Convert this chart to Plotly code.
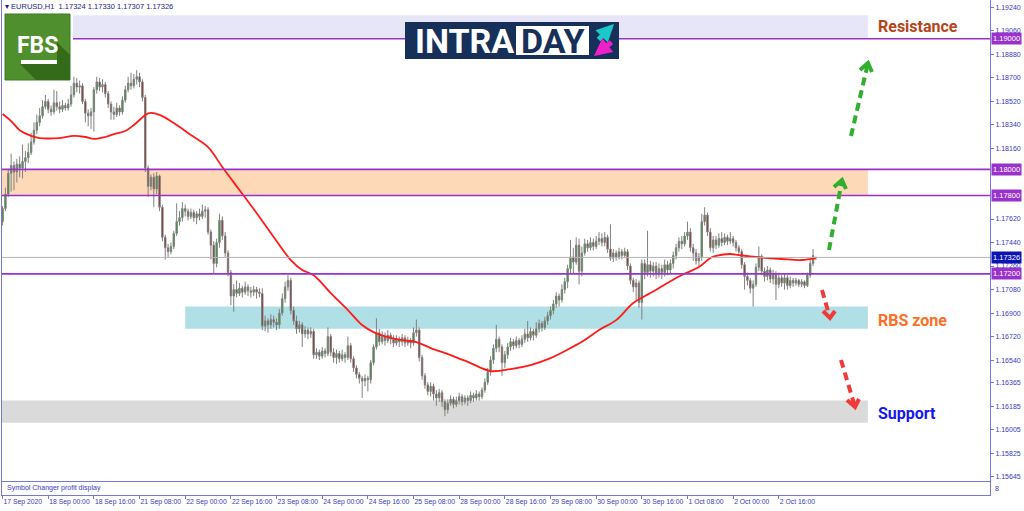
import plotly.graph_objects as go

# ---------------- data ----------------
opens = [1.1760,1.1770,1.1781,1.1797,1.1803,1.1798,1.1804,1.1801,1.1806,1.1809,
1.1813,1.1821,1.1830,1.1836,1.1841,1.1848,1.1852,1.1846,1.1844,1.1851,
1.1848,1.1846,1.1849,1.1847,1.1850,1.1857,1.1866,1.1863,1.1864,1.1852,
1.1843,1.1841,1.1844,1.1861,1.1867,1.1863,1.1865,1.1858,1.1850,1.1844,
1.1842,1.1847,1.1844,1.1853,1.1861,1.1866,1.1864,1.1869,1.1871,1.1867,
1.1855,1.1801,1.1787,1.1794,1.1785,1.1795,1.1771,1.1748,1.1740,1.1737,
1.1741,1.1751,1.1760,1.1763,1.1770,1.1768,1.1764,1.1767,1.1763,1.1766,
1.1764,1.1768,1.1769,1.1752,1.1742,1.1728,1.1744,1.1761,1.1749,1.1736,
1.1721,1.1703,1.1708,1.1705,1.1709,1.1706,1.1710,1.1707,1.1706,1.1708,
1.1706,1.1705,1.1680,1.1684,1.1681,1.1685,1.1683,1.1681,1.1690,1.1701,
1.1710,1.1715,1.1692,1.1684,1.1678,1.1681,1.1674,1.1677,1.1674,1.1676,
1.1658,1.1660,1.1657,1.1661,1.1659,1.1672,1.1660,1.1656,1.1659,1.1655,
1.1658,1.1656,1.1665,1.1655,1.1648,1.1643,1.1640,1.1638,1.1640,1.1639,
1.1652,1.1664,1.1675,1.1668,1.1672,1.1669,1.1673,1.1670,1.1667,1.1670,
1.1668,1.1671,1.1667,1.1669,1.1667,1.1675,1.1677,1.1656,1.1642,1.1635,
1.1630,1.1634,1.1628,1.1625,1.1629,1.1622,1.1616,1.1621,1.1624,1.1620,
1.1623,1.1626,1.1622,1.1625,1.1623,1.1627,1.1625,1.1628,1.1626,1.1631,
1.1637,1.1645,1.1654,1.1663,1.1670,1.1664,1.1652,1.1658,1.1664,1.1668,
1.1665,1.1669,1.1666,1.1670,1.1674,1.1671,1.1676,1.1673,1.1678,1.1682,
1.1679,1.1684,1.1688,1.1692,1.1697,1.1703,1.1700,1.1708,1.1714,1.1724,
1.1733,1.1729,1.1742,1.1722,1.1736,1.1743,1.1740,1.1744,1.1741,1.1745,
1.1747,1.1744,1.1748,1.1739,1.1732,1.1736,1.1733,1.1737,1.1734,1.1737,
1.1726,1.1715,1.1710,1.1713,1.1698,1.1728,1.1721,1.1727,1.1722,1.1726,
1.1720,1.1724,1.1721,1.1727,1.1723,1.1728,1.1734,1.1740,1.1745,1.1743,
1.1749,1.1752,1.1740,1.1736,1.1730,1.1733,1.1760,1.1765,1.1752,1.1740,
1.1746,1.1742,1.1747,1.1744,1.1748,1.1745,1.1747,1.1744,1.1740,1.1737,
1.1727,1.1718,1.1715,1.1709,1.1712,1.1725,1.1733,1.1722,1.1718,1.1723,
1.1716,1.1720,1.1712,1.1717,1.1713,1.1717,1.1711,1.1715,1.1713,1.1715,
1.1712,1.1714,1.1711,1.1719,1.1728,1.17324]

highs = [1.1772,1.1786,1.1800,1.1812,1.1806,1.1808,1.1810,1.1819,1.1814,1.1820,
1.1828,1.1836,1.1842,1.1847,1.1853,1.1857,1.1854,1.1849,1.1861,1.1860,
1.1852,1.1853,1.1851,1.1854,1.1864,1.1871,1.1870,1.1868,1.1866,1.1854,
1.1846,1.1847,1.1863,1.1871,1.1870,1.1869,1.1867,1.1860,1.1852,1.1848,
1.1851,1.1849,1.1856,1.1864,1.1871,1.1874,1.1873,1.1876,1.1874,1.1869,
1.1857,1.1803,1.1796,1.1797,1.1798,1.1796,1.1773,1.1750,1.1743,1.1744,
1.1753,1.1774,1.1768,1.1775,1.1773,1.1770,1.1770,1.1769,1.1768,1.1770,
1.1773,1.1772,1.1771,1.1754,1.1745,1.1747,1.1766,1.1764,1.1752,1.1738,
1.1723,1.1712,1.1715,1.1713,1.1711,1.1714,1.1712,1.1710,1.1711,1.1710,
1.1709,1.1709,1.1688,1.1686,1.1689,1.1688,1.1686,1.1693,1.1705,1.1714,
1.1719,1.1717,1.1695,1.1688,1.1684,1.1683,1.1680,1.1679,1.1679,1.1678,
1.1663,1.1662,1.1664,1.1663,1.1679,1.1674,1.1663,1.1662,1.1661,1.1662,
1.1660,1.1672,1.1667,1.1657,1.1650,1.1645,1.1642,1.1643,1.1642,1.1654,
1.1666,1.1686,1.1678,1.1676,1.1675,1.1677,1.1675,1.1673,1.1673,1.1672,
1.1674,1.1673,1.1672,1.1671,1.1679,1.1685,1.1679,1.1658,1.1644,1.1637,
1.1637,1.1636,1.1631,1.1632,1.1631,1.1624,1.1624,1.1627,1.1626,1.1626,
1.1629,1.1628,1.1627,1.1627,1.1630,1.1629,1.1631,1.1630,1.1633,1.1640,
1.1648,1.1657,1.1666,1.1681,1.1672,1.1666,1.1661,1.1667,1.1671,1.1670,
1.1672,1.1671,1.1673,1.1678,1.1684,1.1679,1.1678,1.1683,1.1685,1.1684,
1.1687,1.1691,1.1695,1.1700,1.1706,1.1705,1.1712,1.1717,1.1727,1.1746,
1.1740,1.1748,1.1747,1.1741,1.1747,1.1746,1.1748,1.1747,1.1749,1.1752,
1.1751,1.1752,1.1750,1.1758,1.1739,1.1738,1.1740,1.1739,1.1740,1.1739,
1.1728,1.1717,1.1716,1.1715,1.1731,1.1731,1.1753,1.1730,1.1729,1.1729,
1.1728,1.1727,1.1731,1.1730,1.1731,1.1737,1.1743,1.1748,1.1749,1.1752,
1.1760,1.1755,1.1743,1.1739,1.1736,1.1766,1.1771,1.1767,1.1755,1.1749,
1.1749,1.1751,1.1752,1.1751,1.1750,1.1752,1.1749,1.1746,1.1742,1.1739,
1.1729,1.1721,1.1717,1.1715,1.1728,1.1741,1.1735,1.1725,1.1726,1.1725,
1.1723,1.1722,1.1721,1.1719,1.1720,1.1719,1.1718,1.1717,1.1717,1.1716,
1.1716,1.1715,1.1721,1.1731,1.1739,1.17330]

lows = [1.1757,1.1768,1.1779,1.1783,1.1784,1.1790,1.1794,1.1793,1.1798,1.1805,
1.1811,1.1819,1.1827,1.1833,1.1839,1.1846,1.1843,1.1841,1.1842,1.1845,
1.1843,1.1844,1.1845,1.1845,1.1848,1.1855,1.1859,1.1858,1.1850,1.1836,
1.1833,1.1831,1.1829,1.1858,1.1860,1.1859,1.1855,1.1847,1.1838,1.1838,
1.1840,1.1841,1.1842,1.1851,1.1859,1.1861,1.1862,1.1865,1.1863,1.1852,
1.1798,1.1779,1.1784,1.1771,1.1781,1.1768,1.1745,1.1731,1.1733,1.1735,
1.1739,1.1749,1.1757,1.1760,1.1764,1.1761,1.1762,1.1760,1.1758,1.1761,
1.1762,1.1763,1.1750,1.1731,1.1720,1.1725,1.1740,1.1746,1.1733,1.1718,
1.1696,1.1691,1.1702,1.1703,1.1702,1.1704,1.1703,1.1702,1.1703,1.1701,
1.1702,1.1677,1.1676,1.1675,1.1678,1.1679,1.1677,1.1678,1.1688,1.1698,
1.1707,1.1689,1.1681,1.1674,1.1675,1.1664,1.1671,1.1670,1.1671,1.1655,
1.1655,1.1654,1.1655,1.1656,1.1657,1.1657,1.1652,1.1651,1.1652,1.1653,
1.1652,1.1654,1.1652,1.1645,1.1640,1.1636,1.1625,1.1634,1.1630,1.1636,
1.1650,1.1662,1.1665,1.1666,1.1665,1.1667,1.1666,1.1664,1.1665,1.1664,
1.1665,1.1664,1.1665,1.1663,1.1665,1.1672,1.1653,1.1639,1.1632,1.1627,
1.1626,1.1623,1.1619,1.1622,1.1618,1.1611,1.1613,1.1619,1.1617,1.1618,
1.1620,1.1619,1.1620,1.1619,1.1621,1.1622,1.1623,1.1623,1.1624,1.1629,
1.1635,1.1642,1.1651,1.1660,1.1660,1.1642,1.1648,1.1655,1.1661,1.1662,
1.1663,1.1663,1.1664,1.1667,1.1668,1.1669,1.1669,1.1671,1.1675,1.1676,
1.1677,1.1681,1.1685,1.1689,1.1694,1.1695,1.1698,1.1705,1.1709,1.1720,
1.1720,1.1727,1.1712,1.1718,1.1734,1.1737,1.1738,1.1738,1.1739,1.1742,
1.1741,1.1741,1.1736,1.1730,1.1729,1.1730,1.1731,1.1731,1.1732,1.1723,
1.1712,1.1706,1.1700,1.1694,1.1685,1.1716,1.1718,1.1717,1.1718,1.1716,
1.1717,1.1716,1.1718,1.1719,1.1720,1.1724,1.1731,1.1737,1.1739,1.1741,
1.1746,1.1737,1.1730,1.1727,1.1726,1.1730,1.1757,1.1749,1.1737,1.1736,
1.1739,1.1740,1.1741,1.1742,1.1742,1.1743,1.1741,1.1737,1.1734,1.1724,
1.1708,1.1711,1.1705,1.1695,1.1710,1.1722,1.1719,1.1714,1.1715,1.1713,
1.1712,1.1700,1.1709,1.1710,1.1708,1.1708,1.1709,1.1710,1.1711,1.1710,
1.1710,1.1709,1.1710,1.1717,1.1726,1.17307]

closes = [1.1770,1.1781,1.1797,1.1803,1.1798,1.1804,1.1801,1.1806,1.1809,1.1813,
1.1821,1.1830,1.1836,1.1841,1.1848,1.1852,1.1846,1.1844,1.1851,1.1848,
1.1846,1.1849,1.1847,1.1850,1.1857,1.1866,1.1863,1.1864,1.1852,1.1843,
1.1841,1.1844,1.1861,1.1867,1.1863,1.1865,1.1858,1.1850,1.1844,1.1842,
1.1847,1.1844,1.1853,1.1861,1.1866,1.1864,1.1869,1.1871,1.1867,1.1855,
1.1801,1.1787,1.1794,1.1785,1.1795,1.1771,1.1748,1.1740,1.1737,1.1741,
1.1751,1.1760,1.1763,1.1770,1.1768,1.1764,1.1767,1.1763,1.1766,1.1764,
1.1768,1.1769,1.1752,1.1742,1.1728,1.1744,1.1761,1.1749,1.1736,1.1721,
1.1703,1.1708,1.1705,1.1709,1.1706,1.1710,1.1707,1.1706,1.1708,1.1706,
1.1705,1.1680,1.1684,1.1681,1.1685,1.1683,1.1681,1.1690,1.1701,1.1710,
1.1715,1.1692,1.1684,1.1678,1.1681,1.1674,1.1677,1.1674,1.1676,1.1658,
1.1660,1.1657,1.1661,1.1659,1.1672,1.1660,1.1656,1.1659,1.1655,1.1658,
1.1656,1.1665,1.1655,1.1648,1.1643,1.1640,1.1638,1.1640,1.1639,1.1652,
1.1664,1.1675,1.1668,1.1672,1.1669,1.1673,1.1670,1.1667,1.1670,1.1668,
1.1671,1.1667,1.1669,1.1667,1.1675,1.1677,1.1656,1.1642,1.1635,1.1630,
1.1634,1.1628,1.1625,1.1629,1.1622,1.1616,1.1621,1.1624,1.1620,1.1623,
1.1626,1.1622,1.1625,1.1623,1.1627,1.1625,1.1628,1.1626,1.1631,1.1637,
1.1645,1.1654,1.1663,1.1670,1.1664,1.1652,1.1658,1.1664,1.1668,1.1665,
1.1669,1.1666,1.1670,1.1674,1.1671,1.1676,1.1673,1.1678,1.1682,1.1679,
1.1684,1.1688,1.1692,1.1697,1.1703,1.1700,1.1708,1.1714,1.1724,1.1733,
1.1729,1.1742,1.1722,1.1736,1.1743,1.1740,1.1744,1.1741,1.1745,1.1747,
1.1744,1.1748,1.1739,1.1732,1.1736,1.1733,1.1737,1.1734,1.1737,1.1726,
1.1715,1.1710,1.1713,1.1698,1.1728,1.1721,1.1727,1.1722,1.1726,1.1720,
1.1724,1.1721,1.1727,1.1723,1.1728,1.1734,1.1740,1.1745,1.1743,1.1749,
1.1752,1.1740,1.1736,1.1730,1.1733,1.1760,1.1765,1.1752,1.1740,1.1746,
1.1742,1.1747,1.1744,1.1748,1.1745,1.1747,1.1744,1.1740,1.1737,1.1727,
1.1718,1.1715,1.1709,1.1712,1.1725,1.1733,1.1722,1.1718,1.1723,1.1716,
1.1720,1.1712,1.1717,1.1713,1.1717,1.1711,1.1715,1.1713,1.1715,1.1712,
1.1714,1.1711,1.1719,1.1728,1.1734,1.17326]

bar_pos = list(range(len(closes)))

# moving average (red line), read at selected bars
ma_pos = [0,3,6,10,13,20,25,29,32,36,39,43,46,48,50,52,55,60,66,72,77,83,89,95,101,105,109,115,
          121,126,130,135,140,145,150,157,164,171,178,185,192,199,204,209,215,221,227,233,238,244,
          248,250,255,258,264,273,280,285]
ma_val = [1.18424,1.18370,1.18300,1.18256,1.18240,1.18240,1.18256,1.18248,1.18233,1.18248,1.18270,
          1.18294,1.18340,1.18378,1.18417,1.18432,1.18417,1.18355,1.18263,1.18170,1.18018,1.17842,
          1.17666,1.17482,1.17306,1.17230,1.17190,1.17053,1.16923,1.16808,1.16754,1.16716,1.16693,
          1.16678,1.16632,1.16578,1.16517,1.16456,1.16471,1.16502,1.16555,1.16632,1.16693,1.16770,
          1.16846,1.16977,1.17053,1.17130,1.17191,1.17252,1.17321,1.17337,1.17352,1.17344,1.17329,
          1.17314,1.17306,1.17321]

time_pos = [0,16,32,48,64,80,96,112,128,144,160,176,192,208,224,240,256,272]
time_labels = ["17 Sep 2020","18 Sep 00:00","18 Sep 16:00","21 Sep 08:00","22 Sep 00:00",
               "22 Sep 16:00","23 Sep 08:00","24 Sep 00:00","24 Sep 16:00","25 Sep 08:00",
               "28 Sep 00:00","28 Sep 16:00","29 Sep 08:00","30 Sep 00:00","30 Sep 16:00",
               "1 Oct 08:00","2 Oct 00:00","2 Oct 16:00"]

price_ticks = [1.19240,1.19060,1.18880,1.18700,1.18520,1.18340,1.18160,1.17620,1.17440,1.17260,
               1.17080,1.16900,1.16720,1.16540,1.16365,1.16185,1.16005,1.15825,1.15645]

level_lines = [1.19000, 1.18000, 1.17800, 1.17200]
last_price = 1.17326
resistance_zone = (1.19000, 1.19180)
orange_zone = (1.17800, 1.18000)
rbs_zone = (1.16780, 1.16950)
support_zone = (1.16060, 1.16230)

# ---------------- styling ----------------
AX = "#7676dc"
TXT = "#3838c0"
PURPLE = "#9932cc"
FONT = "Liberation Sans"

def px(p):  # pixel x -> paper
    return (p - 2) / 988

def py(p):  # pixel y -> paper
    return (495 - p) / 495

fig = go.Figure()

fig.add_trace(go.Candlestick(
    x=bar_pos, open=opens, high=highs, low=lows, close=closes,
    increasing=dict(line=dict(color="#808080", width=1), fillcolor="#12a412"),
    decreasing=dict(line=dict(color="#808080", width=1), fillcolor="#8a0c0c"),
    whiskerwidth=0, showlegend=False, hoverinfo="skip", xaxis="x", yaxis="y"))

fig.add_trace(go.Scatter(
    x=ma_pos, y=ma_val, mode="lines",
    line=dict(color="#ff1a1a", width=1.8, shape="spline", smoothing=1.0),
    showlegend=False, hoverinfo="skip", xaxis="x", yaxis="y"))

fig.add_trace(go.Scatter(x=[None], y=[None], xaxis="x2", yaxis="y2",
                         showlegend=False, hoverinfo="skip"))

shapes = []
x_left, x_zone_end = -0.2, 303.2
# zones
shapes.append(dict(type="rect", xref="x", yref="y", x0=24.7, x1=x_zone_end,
                   y0=resistance_zone[0], y1=resistance_zone[1],
                   fillcolor="#e6e6f8", line=dict(width=0), layer="below"))
shapes.append(dict(type="rect", xref="x", yref="y", x0=x_left, x1=x_zone_end,
                   y0=orange_zone[0], y1=orange_zone[1],
                   fillcolor="#fdd9b8", line=dict(width=0), layer="below"))
shapes.append(dict(type="rect", xref="x", yref="y", x0=64, x1=x_zone_end,
                   y0=rbs_zone[0], y1=rbs_zone[1],
                   fillcolor="#b0dfe5", line=dict(width=0), layer="below"))
shapes.append(dict(type="rect", xref="x", yref="y", x0=x_left, x1=x_zone_end,
                   y0=support_zone[0], y1=support_zone[1],
                   fillcolor="#dadada", line=dict(width=0), layer="below"))
# current price line
shapes.append(dict(type="line", xref="paper", yref="y", x0=0, x1=1, y0=last_price, y1=last_price,
                   line=dict(color="#b4b4b4", width=1)))
# level lines
for lv in level_lines:
    x0 = px(73) if lv == 1.19 else 0
    shapes.append(dict(type="line", xref="paper", yref="y", x0=x0, x1=1, y0=lv, y1=lv,
                       line=dict(color=PURPLE, width=1.6)))

# dashed arrows (decorations, pixel positions)
def dashed_arrow(p0, p1, color, left_arm, right_arm):
    shapes.append(dict(type="line", xref="paper", yref="paper",
                       x0=px(p0[0]), y0=py(p0[1]), x1=px(p1[0]), y1=py(p1[1]),
                       line=dict(color=color, width=4, dash="8px,5px")))
    path = "M {} {} L {} {} L {} {}".format(px(left_arm[0]), py(left_arm[1]),
                                            px(p1[0]), py(p1[1]),
                                            px(right_arm[0]), py(right_arm[1]))
    shapes.append(dict(type="path", xref="paper", yref="paper", path=path,
                       line=dict(color=color, width=4)))

GREEN = "#2fae2f"
RED = "#f03a3a"
dashed_arrow((851, 136), (868, 63), GREEN, (860, 70), (872, 72))
dashed_arrow((829, 250), (842, 180), GREEN, (834, 187), (846, 189))
dashed_arrow((822, 290), (830, 318), RED, (823, 311), (835, 311))
dashed_arrow((841, 360), (855, 407), RED, (847, 400), (859, 399))

# FBS logo
shapes.append(dict(type="rect", xref="paper", yref="paper", x0=px(5), x1=px(70), y0=py(80), y1=py(14),
                   fillcolor="#4f8f2e", line=dict(color="#3c7a22", width=1)))
shadow = "M {} {} L {} {} L {} {} L {} {} L {} {} L {} {} Z".format(
    px(20), py(64), px(57), py(64), px(57), py(42), px(70), py(55), px(70), py(80), px(36), py(80))
shapes.append(dict(type="path", xref="paper", yref="paper", path=shadow,
                   fillcolor="#346b1b", line=dict(width=0)))
shapes.append(dict(type="rect", xref="paper", yref="paper", x0=px(21), x1=px(57), y0=py(64), y1=py(60),
                   fillcolor="white", line=dict(width=0)))
# INTRADAY logo
shapes.append(dict(type="rect", xref="paper", yref="paper", x0=px(405), x1=px(619), y0=py(59), y1=py(22),
                   fillcolor="#17305a", line=dict(width=0)))
shapes.append(dict(type="rect", xref="paper", yref="paper", x0=px(516), x1=px(589), y0=py(55), y1=py(26),
                   fillcolor="white", line=dict(width=0)))

annotations = []
annotations.append(dict(xref="paper", yref="paper", x=px(3), y=py(7), xanchor="left", yanchor="middle",
                        text="▾ EURUSD,H1  1.17324 1.17330 1.17307 1.17326", showarrow=False,
                        font=dict(family=FONT, size=7.5, color="#1c1c8c")))
annotations.append(dict(xref="paper", yref="paper", x=px(37), y=py(45), xanchor="center", yanchor="middle",
                        text="<b>FBS</b>", showarrow=False,
                        font=dict(family="Roboto", size=23, color="white")))
annotations.append(dict(xref="paper", yref="paper", x=px(413), y=py(41), xanchor="left", yanchor="middle",
                        text="<b>INTRA</b>", showarrow=False,
                        font=dict(family="Roboto", size=34, color="white")))
annotations.append(dict(xref="paper", yref="paper", x=px(552), y=py(41), xanchor="center", yanchor="middle",
                        text="<b>DAY</b>", showarrow=False,
                        font=dict(family="Roboto", size=34, color="#17305a")))
annotations.append(dict(xref="paper", yref="paper", x=px(614), y=py(24), ax=-17, ay=17,
                        showarrow=True, arrowhead=2, arrowsize=0.7, arrowwidth=5, arrowcolor="#1cc9c9", text=""))
annotations.append(dict(xref="paper", yref="paper", x=px(594), y=py(56), ax=19, ay=-15,
                        showarrow=True, arrowhead=2, arrowsize=0.7, arrowwidth=5, arrowcolor="#f020c8", text=""))

for txt, ypix, col in [("Resistance", 26, "#b5451b"), ("RBS zone", 320, "#ff6e22"), ("Support", 413, "#1616f0")]:
    annotations.append(dict(xref="paper", yref="paper", x=px(876), y=py(ypix), xanchor="left",
                            yanchor="middle", text="<b>" + txt + "</b>", showarrow=False,
                            font=dict(family="Roboto", size=16, color=col)))

# price boxes on right axis
for lv in level_lines:
    annotations.append(dict(xref="paper", yref="y", x=px(991), y=lv, xanchor="left", yanchor="middle",
                            text="%.5f" % lv, showarrow=False, bgcolor=PURPLE, borderpad=1,
                            font=dict(family=FONT, size=7.5, color="white")))
annotations.append(dict(xref="paper", yref="y", x=px(991), y=last_price, xanchor="left", yanchor="middle",
                        text="%.5f" % last_price, showarrow=False, bgcolor="#0a14b4", borderpad=1,
                        font=dict(family=FONT, size=7.5, color="white")))

annotations.append(dict(xref="paper", yref="paper", x=px(5), y=py(488), xanchor="left", yanchor="middle",
                        text="Symbol Changer profit display", showarrow=False,
                        font=dict(family=FONT, size=7, color=TXT)))
annotations.append(dict(xref="paper", yref="paper", x=px(993), y=py(488), xanchor="left", yanchor="middle",
                        text="8", showarrow=False, font=dict(family=FONT, size=7, color=TXT)))

fig.update_layout(
    width=1024, height=511,
    margin=dict(l=2, r=34, t=0, b=16),
    paper_bgcolor="white", plot_bgcolor="white",
    showlegend=False,
    shapes=shapes, annotations=annotations,
    xaxis=dict(domain=[0, 1], range=[-0.2, 346], anchor="y", showticklabels=False, ticks="",
               showline=True, mirror=True, linecolor=AX, linewidth=1, showgrid=False, zeroline=False,
               rangeslider=dict(visible=False), fixedrange=True),
    yaxis=dict(domain=[py(481), 1], range=[1.15614, 1.19297], side="right", anchor="x",
               tickvals=price_ticks, ticktext=["%.5f" % v for v in price_ticks],
               ticks="outside", ticklen=3, tickcolor=AX,
               tickfont=dict(family=FONT, size=7, color=TXT),
               showline=True, mirror=True, linecolor=AX, linewidth=1,
               showgrid=False, zeroline=False, fixedrange=True),
    xaxis2=dict(domain=[0, 1], matches="x", anchor="y2", tickvals=time_pos, ticktext=time_labels,
                ticks="outside", ticklen=3, tickcolor=AX, ticklabelposition="outside right",
                tickangle=0,
                tickfont=dict(family=FONT, size=6.8, color=TXT),
                showline=True, mirror=True, linecolor=AX, linewidth=1, showgrid=False, zeroline=False),
    yaxis2=dict(domain=[0, py(482)], range=[0, 1], anchor="x2", side="right", showticklabels=False,
                ticks="", showline=True, mirror=True, linecolor=AX, linewidth=1,
                showgrid=False, zeroline=False, fixedrange=True),
)

fig.write_html("out.html", config={"displayModeBar": False},
               post_script="document.body.style.margin='0px';document.body.style.overflow='hidden';")
